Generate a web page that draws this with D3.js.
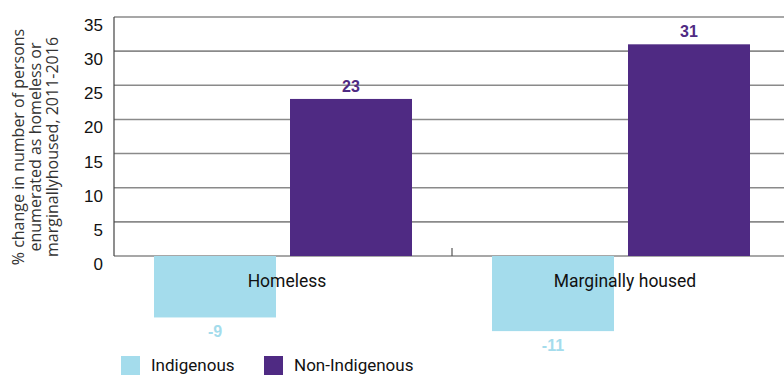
<!DOCTYPE html>
<html><head><meta charset="utf-8">
<script src="https://cdn.jsdelivr.net/npm/d3@7"></script>
<style>body{margin:0;background:#fff;}svg{display:block;}</style>
</head><body>
<svg id="c" width="784" height="376"></svg>
<script>
const categories = ["Homeless", "Marginally housed"];
const seriesNames = ["Indigenous", "Non-Indigenous"];
const indigenous = [-9, -11];
const nonIndigenous = [23, 31];
const yTicks = [0, 5, 10, 15, 20, 25, 30, 35];
const colors = ["#a4dcec", "#4f2a83"];
const titleLines = ["% change in number of persons", "enumerated as homeless or", "marginallyhoused, 2011-2016"];

const svg = d3.select("#c");
const x0 = d3.scaleBand().domain(categories).range([114, 790]).paddingInner(0).paddingOuter(0);
const x1 = d3.scaleBand().domain(seriesNames).range([40, 298]).paddingInner(0.103);
const y = d3.scaleLinear().domain([0, 35]).range([256, 17]);

// gridlines
svg.append("g").selectAll("line").data(yTicks).join("line")
  .attr("x1", 114).attr("x2", 790)
  .attr("y1", d => y(d)).attr("y2", d => y(d))
  .attr("stroke", "#8a8a8a").attr("stroke-width", 1.6);

// y tick labels
svg.append("g").selectAll("text").data(yTicks).join("text")
  .attr("x", 103).attr("y", d => y(d) + 14)
  .attr("text-anchor", "end")
  .attr("font-family", "Liberation Sans, Arial, sans-serif")
  .attr("font-size", 17).attr("fill", "#111")
  .text(d => d);

// left axis line
svg.append("line").attr("x1", 114).attr("x2", 114).attr("y1", y(35)).attr("y2", y(0))
  .attr("stroke", "#444").attr("stroke-width", 1.2);

// category ticks
svg.append("g").selectAll("line").data(categories.slice(1)).join("line")
  .attr("x1", d => x0(d)).attr("x2", d => x0(d))
  .attr("y1", y(0) - 8).attr("y2", y(0))
  .attr("stroke", "#555").attr("stroke-width", 1.2);

const rows = categories.map((c, i) => [
  {cat: c, s: seriesNames[0], v: indigenous[i], col: colors[0]},
  {cat: c, s: seriesNames[1], v: nonIndigenous[i], col: colors[1]}
]).flat();

// bars
svg.append("g").selectAll("rect").data(rows).join("rect")
  .attr("x", d => x0(d.cat) + x1(d.s))
  .attr("width", x1.bandwidth())
  .attr("y", d => y(Math.max(0, d.v)))
  .attr("height", d => Math.abs(y(d.v) - y(0)))
  .attr("fill", d => d.col);

// category labels
svg.append("g").selectAll("text").data(categories).join("text")
  .attr("x", d => x0(d) + x0.bandwidth() / 2 + 4)
  .attr("y", 287)
  .attr("text-anchor", "middle")
  .attr("font-family", "Roboto, sans-serif")
  .attr("font-size", 17.5).attr("fill", "#111")
  .text(d => d);

// value labels
svg.append("g").selectAll("text").data(rows).join("text")
  .attr("x", d => x0(d.cat) + x1(d.s) + x1.bandwidth() / 2)
  .attr("y", d => d.v >= 0 ? y(d.v) - 7 : y(d.v) + 20)
  .attr("text-anchor", "middle")
  .attr("font-family", "Liberation Sans, Arial, sans-serif")
  .attr("font-weight", "bold")
  .attr("font-size", 16)
  .attr("fill", d => d.col)
  .text(d => d.v);

// y title
const t = svg.append("text")
  .attr("transform", "translate(24,147) rotate(-90)")
  .attr("text-anchor", "middle")
  .attr("font-family", "Open Sans, sans-serif")
  .attr("font-size", 16).attr("fill", "#333");
titleLines.forEach((l, i) => t.append("tspan").attr("x", 0).attr("dy", i === 0 ? 0 : 17).text(l));

// legend
const legX = [121, 264];
const lg = svg.append("g").selectAll("g").data(seriesNames).join("g")
  .attr("transform", (d, i) => `translate(${legX[i]},356)`);
lg.append("rect").attr("width", 19).attr("height", 19).attr("fill", (d, i) => colors[i]);
lg.append("text").attr("x", 30).attr("y", 15)
  .attr("font-family", "Roboto, sans-serif").attr("font-size", 17).attr("fill", "#111")
  .text(d => d);
</script>
</body></html>
